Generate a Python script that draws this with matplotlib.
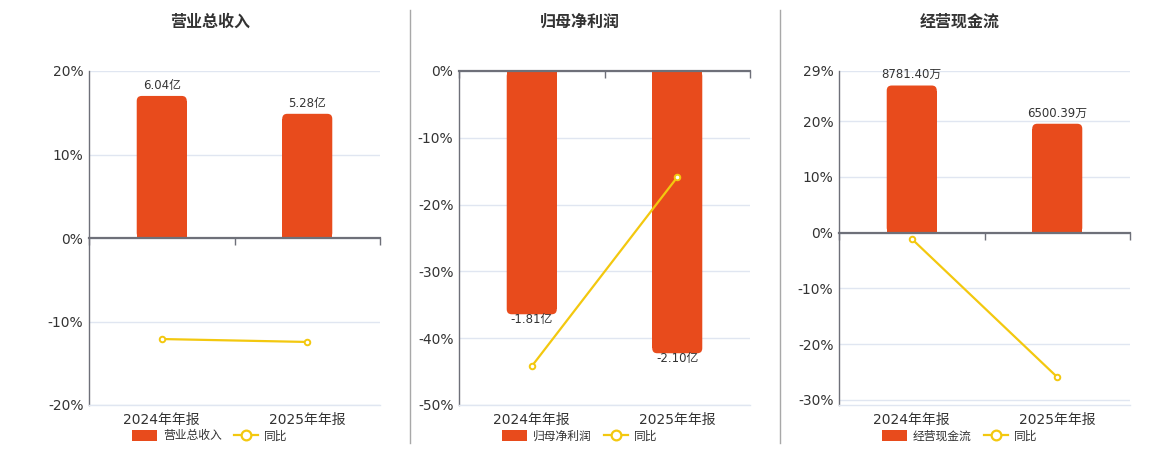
import matplotlib
matplotlib.use('Agg')
import matplotlib.pyplot as plt
from matplotlib.lines import Line2D
from matplotlib.patches import Patch, FancyBboxPatch
from matplotlib.ticker import FixedLocator, FuncFormatter

plt.rcParams['font.family'] = ['DejaVu Sans', 'Noto Sans CJK SC']

# ---------------- data ----------------
categories = ['2024年年报', '2025年年报']
titles = ['营业总收入', '归母净利润', '经营现金流']
legend_names = ['营业总收入', '归母净利润', '经营现金流']
bar_values_1 = [6.04, 5.28]          # 亿
bar_values_2 = [-1.81, -2.10]        # 亿
bar_values_3 = [8781.40, 6500.39]    # 万
bar_labels_1 = ['6.04亿', '5.28亿']
bar_labels_2 = ['-1.81亿', '-2.10亿']
bar_labels_3 = ['8781.40万', '6500.39万']
yoy_1 = [-12.1, -12.45]
yoy_2 = [-44.2, -15.9]
yoy_3 = [-1.1, -25.9]
pct_ticks_1 = [-20, -10, 0, 10, 20]
pct_ticks_2 = [-50, -40, -30, -20, -10, 0]
pct_ticks_3 = [-30, -20, -10, 0, 10, 20, 29]

panels = [
    dict(title=titles[0], leg=legend_names[0], bars=bar_values_1, labels=bar_labels_1,
         yoy=yoy_1, ticks=pct_ticks_1, plim=(-20, 20), blim=(-7.1, 7.1)),
    dict(title=titles[1], leg=legend_names[1], bars=bar_values_2, labels=bar_labels_2,
         yoy=yoy_2, ticks=pct_ticks_2, plim=(-50, 0), blim=(-2.485, 0)),
    dict(title=titles[2], leg=legend_names[2], bars=bar_values_3, labels=bar_labels_3,
         yoy=yoy_3, ticks=pct_ticks_3, plim=(-30.9, 29), blim=(-10280, 9647)),
]

BAR_COLOR = '#E84B1C'
LINE_COLOR = '#F3C80F'
AXIS_COLOR = '#6E7079'
GRID_COLOR = '#E0E6F1'
TEXT_COLOR = '#333333'

W, H = 1160, 450
fig = plt.figure(figsize=(W / 100, H / 100), dpi=100)

axes_left_px = [89, 459, 839]
axes_w_px = 291
axes_top_px = 71
axes_bottom_px = 405
centers_px = [210, 580, 960]
BAR_W = 0.344
RADIUS_PX = 5

x = list(range(len(categories)))

for i, p in enumerate(panels):
    l = axes_left_px[i] / W
    b = 1 - axes_bottom_px / H
    w = axes_w_px / W
    h_px = axes_bottom_px - axes_top_px
    h = h_px / H

    ax = fig.add_axes([l, b, w, h])
    ax.set_xlim(-0.5, 1.5)
    ax.set_ylim(*p['plim'])
    ax.yaxis.set_major_locator(FixedLocator(p['ticks']))
    ax.yaxis.set_major_formatter(FuncFormatter(lambda v, pos: f'{v:g}%'))
    ax.grid(axis='y', color=GRID_COLOR, lw=1)
    ax.set_axisbelow(True)
    for s in ['top', 'right']:
        ax.spines[s].set_visible(False)
    ax.spines['bottom'].set_color(GRID_COLOR)
    ax.spines['bottom'].set_linewidth(1)
    ax.spines['left'].set_color(AXIS_COLOR)
    ax.spines['left'].set_linewidth(1)
    ax.tick_params(axis='y', length=0, pad=4, labelsize=10, labelcolor=TEXT_COLOR)
    ax.set_xticks(x)
    ax.set_xticklabels(categories)
    ax.tick_params(axis='x', length=0, pad=6, labelsize=10, labelcolor=TEXT_COLOR)

    # bars on hidden twin axis
    axb = ax.twinx()
    axb.set_ylim(*p['blim'])
    axb.set_xlim(-0.5, 1.5)
    axb.axis('off')
    rects = axb.bar(x, p['bars'], width=BAR_W, color=BAR_COLOR)
    bmin, bmax = p['blim']
    rx = RADIUS_PX * 2.0 / axes_w_px
    ry = RADIUS_PX * (bmax - bmin) / h_px
    for r in rects:
        rxx, ryy, rw, rh = r.get_x(), r.get_y(), r.get_width(), r.get_height()
        sign = 1 if rh >= 0 else -1
        r.set_height(rh - sign * ry)
        axb.add_patch(FancyBboxPatch((rxx, min(ryy, ryy + rh)), rw, abs(rh),
                                     boxstyle=f'round,pad=0,rounding_size={rx}',
                                     mutation_aspect=ry / rx,
                                     facecolor=BAR_COLOR, edgecolor='none'))
    for r, lab, v in zip(rects, p['labels'], p['bars']):
        if v >= 0:
            axb.annotate(lab, (r.get_x() + r.get_width() / 2, v), xytext=(0, 3),
                         textcoords='offset points', ha='center', va='bottom',
                         fontsize=8.5, color=TEXT_COLOR)
        else:
            axb.annotate(lab, (r.get_x() + r.get_width() / 2, v), xytext=(0, 1),
                         textcoords='offset points', ha='center', va='top',
                         fontsize=8.5, color=TEXT_COLOR)

    # yoy line on top twin axis with same percent scale
    axl = ax.twinx()
    axl.set_ylim(*p['plim'])
    axl.set_xlim(-0.5, 1.5)
    axl.axis('off')
    axl.plot(x, p['yoy'], color=LINE_COLOR, lw=1.6, marker='o', ms=4,
             mfc='white', mec=LINE_COLOR, mew=1.4, zorder=5)

    # category axis line at 0%
    ymin, ymax = p['plim']
    pos0 = (0 - ymin) / (ymax - ymin)
    sec = axl.secondary_xaxis(pos0)
    sec.set_alignment('bottom')
    sec.spines['bottom'].set_color(AXIS_COLOR)
    sec.spines['bottom'].set_linewidth(1.6)
    sec.set_xticks([-0.5, 0.5, 1.5])
    sec.set_xticklabels([])
    sec.tick_params(axis='x', direction='out', length=5, width=1, color=AXIS_COLOR)

    # title
    fig.text(centers_px[i] / W, 1 - 22 / H, p['title'], ha='center', va='center',
             fontsize=11.5, fontweight='bold', color=TEXT_COLOR,
             family=['Noto Sans CJK SC', 'DejaVu Sans'])

    # legend
    handles = [Patch(facecolor=BAR_COLOR, edgecolor='none'),
               Line2D([], [], color=LINE_COLOR, lw=1.6, marker='o', ms=7,
                      mfc='white', mec=LINE_COLOR, mew=1.6)]
    fig.legend(handles, [p['leg'], '同比'], loc='center',
               bbox_to_anchor=(centers_px[i] / W, 1 - 436 / H), ncol=2,
               frameon=False, fontsize=8.5, handlelength=2.1, handleheight=1.0,
               handletextpad=0.5, columnspacing=1.0, labelcolor=TEXT_COLOR,
               borderpad=0, borderaxespad=0)

# separators
for xs in [410, 780]:
    fig.add_artist(Line2D([xs / W, xs / W], [1 - 10 / H, 1 - 443 / H],
                          color='#A8A8A8', lw=1))

fig.savefig('out.png', dpi=100, facecolor='white')
